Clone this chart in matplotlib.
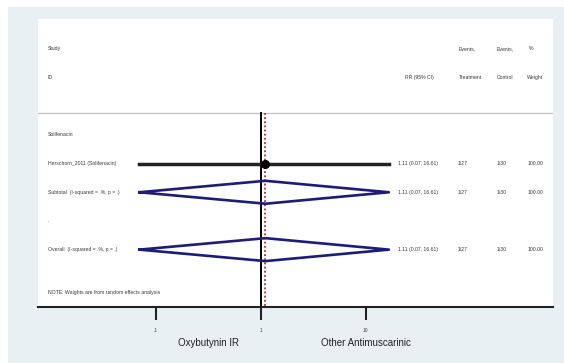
import numpy as np
import matplotlib
matplotlib.use('Agg')
import matplotlib.pyplot as plt
from matplotlib.patches import Rectangle
import matplotlib.transforms as mtransforms

plt.rcParams['font.family'] = ['Liberation Sans', 'DejaVu Sans']

# data
subgroup = "Soilfenacin"
study_ids = ["Herschorn_2011 (Solifenacin)"]
rr = [1.11]
ci_low = [0.07]
ci_high = [16.61]
events_treat = ["1/27"]
events_ctrl = ["1/30"]
weights = [100.00]
sub_rr, sub_low, sub_high = 1.11, 0.07, 16.61
all_rr, all_low, all_high = 1.11, 0.07, 16.61
sub_label = "Subtotal  (I-squared = .%, p = .)"
all_label = "Overall  (I-squared = .%, p = .)"
note = "NOTE: Weights are from random effects analysis"
xticks = [0.1, 1, 10]
xtick_labels = [".1", "1", "10"]
favours = ["Oxybutynin IR", "Other Antimuscarinic"]

W, H = 564, 363
fig = plt.figure(figsize=(W / 100, H / 100), dpi=100, facecolor='white')
BG = '#e8f0f3'
fig.patches.append(Rectangle((8 / W, 0), 1 - 8 / W, 1 - 7 / H, transform=fig.transFigure,
                             facecolor=BG, edgecolor='none', zorder=-1))

ax = fig.add_axes([38 / W, (H - 307) / H, (553 - 38) / W, (307 - 19) / H])
ax.set_zorder(2)
ax.set_facecolor('white')
ax.set_xscale('log')
ax.set_xlim(10 ** ((38 - 260.7) / 105), 10 ** ((553 - 260.7) / 105))
ax.set_ylim(6, -4.04)
for s in ['top', 'left', 'right']:
    ax.spines[s].set_visible(False)
ax.spines['bottom'].set_linewidth(1.5)
ax.spines['bottom'].set_color('#222222')
ax.set_xticks(xticks)
ax.set_xticklabels(xtick_labels)
ax.minorticks_off()
ax.tick_params(axis='x', length=9, width=1.5, color='#222222', labelsize=3.5, pad=6, labelcolor='#444444')
ax.set_yticks([])

tr = mtransforms.blended_transform_factory(ax.transAxes, ax.transData)
fs = 3.7
tc = '#3a3a3a'

def fx(px):
    return (px - 38) / 515

# header
ax.text(fx(48), -3, "Study", transform=tr, fontsize=fs, color=tc, va='center')
ax.text(fx(48), -2, "ID", transform=tr, fontsize=fs, color=tc, va='center')
ax.text(fx(419), -2, "RR (95% CI)", transform=tr, fontsize=fs, color=tc, va='center', ha='center')
ax.text(fx(459), -3, "Events,", transform=tr, fontsize=fs, color=tc, va='center')
ax.text(fx(459), -2, "Treatment", transform=tr, fontsize=fs, color=tc, va='center')
ax.text(fx(497), -3, "Events,", transform=tr, fontsize=fs, color=tc, va='center')
ax.text(fx(497), -2, "Control", transform=tr, fontsize=fs, color=tc, va='center')
ax.text(fx(529), -3, "%", transform=tr, fontsize=fs, color=tc, va='center')
ax.text(fx(527), -2, "Weight", transform=tr, fontsize=fs, color=tc, va='center')
ax.axhline(-0.77, color='#c4c4c4', lw=1)

# reference lines
ax.plot([1, 1], [-0.77, 6], color='black', lw=1.4, zorder=2)
ax.plot([all_rr, all_rr], [-0.77, 6], color='#cc2233', lw=1.3, ls=(0, (1, 1.3)), zorder=2)

ax.text(fx(48), 0, subgroup, transform=tr, fontsize=fs, color=tc, va='center')

def right_cols(y, est, lo, hi, et, ec, w):
    ax.text(fx(398), y, f"{est:.2f} ({lo:.2f}, {hi:.2f})", transform=tr,
            fontsize=fs, color=tc, va='center')
    ax.text(fx(458), y, et, transform=tr, fontsize=fs, color=tc, va='center')
    ax.text(fx(497), y, ec, transform=tr, fontsize=fs, color=tc, va='center')
    ax.text(fx(528), y, f"{w:.2f}", transform=tr, fontsize=fs, color=tc, va='center')

for i, sid in enumerate(study_ids):
    y = 1 + i
    ax.text(fx(48), y, sid, transform=tr, fontsize=fs, color=tc, va='center')
    ax.plot([ci_low[i], ci_high[i]], [y, y], color='#222222', lw=2.5, zorder=3)
    ax.plot([rr[i]], [y], 'o', color='black', ms=5.5, zorder=4)
    right_cols(y, rr[i], ci_low[i], ci_high[i], events_treat[i], events_ctrl[i], weights[i])

def diamond(y, est, lo, hi):
    ax.plot([lo, est, hi, est, lo], [y, y - 0.4, y, y + 0.4, y], color='#1c1c7a', lw=1.9, zorder=3)

diamond(2, sub_rr, sub_low, sub_high)
ax.text(fx(48), 2, sub_label, transform=tr, fontsize=fs, color=tc, va='center')
right_cols(2, sub_rr, sub_low, sub_high, events_treat[0], events_ctrl[0], sum(weights))

ax.text(fx(48), 3, ".", transform=tr, fontsize=fs, color=tc, va='center')

diamond(4, all_rr, all_low, all_high)
ax.text(fx(48), 4, all_label, transform=tr, fontsize=fs, color=tc, va='center')
right_cols(4, all_rr, all_low, all_high, events_treat[0], events_ctrl[0], sum(weights))

ax.text(fx(48), 5.5, note, transform=tr, fontsize=fs, color=tc, va='center')

# favours labels
ax.text(fx(208), -0.125, favours[0], transform=ax.transAxes, fontsize=7, color='#222222',
        ha='center', va='center')
ax.text(fx(366), -0.125, favours[1], transform=ax.transAxes, fontsize=7, color='#222222',
        ha='center', va='center')

fig.savefig('out.png', dpi=100, facecolor=fig.get_facecolor())
